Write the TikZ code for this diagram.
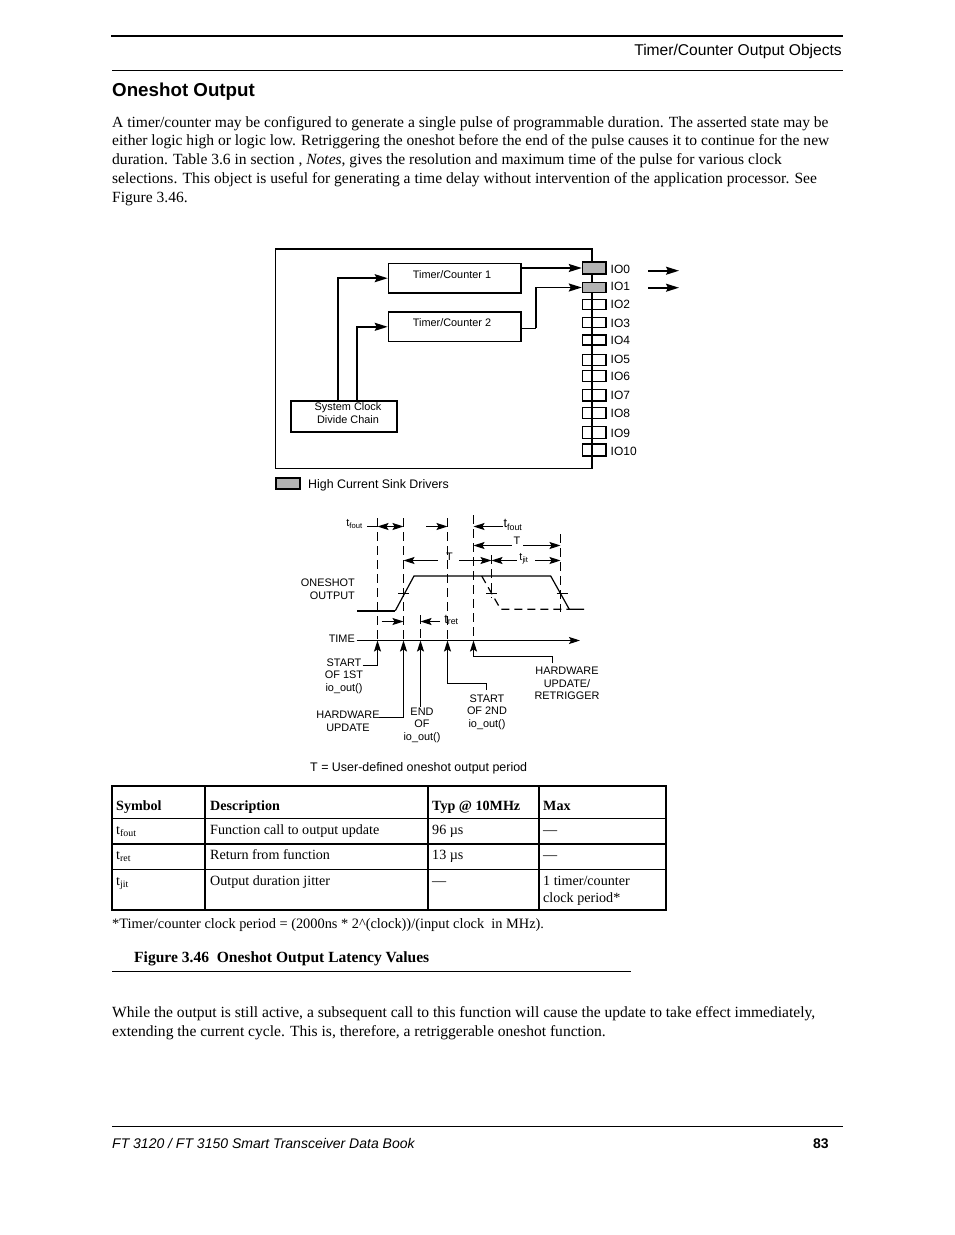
\documentclass[tikz,border=0pt]{standalone}
\usepackage{fontspec}
\setmainfont{Liberation Serif}
\setsansfont{Liberation Sans}
\usetikzlibrary{calc,arrows.meta,positioning}
\definecolor{pingray}{HTML}{B3B3B3}
\tikzset{
  ar/.style={-{Stealth[length=13pt,width=8pt,inset=2pt]},line width=1.6pt},
  dar/.style={{Stealth[length=11pt,width=7pt,inset=2pt]}-{Stealth[length=11pt,width=7pt,inset=2pt]},line width=1pt},
  lar/.style={-{Stealth[length=11pt,width=7pt,inset=2pt]},line width=1pt},
  upar/.style={-{Stealth[length=11pt,width=7pt,inset=2pt]},line width=1pt},
  box/.style={draw,line width=1.5pt,inner sep=0pt,anchor=north west},
  iopin/.style={draw,line width=1.5pt,inner sep=0pt,minimum width=23.5pt},
  dsh/.style={line width=1pt,dash pattern=on 9pt off 5pt},
  rulethin/.style={line width=0.7pt},
  tabrule/.style={line width=1.3pt},
  lab/.style={font=\sffamily\fontsize{12.7}{14}\selectfont,align=center,inner sep=0pt},
  small/.style={font=\sffamily\fontsize{10.9}{12.6}\selectfont,align=center,inner sep=0pt},
  iolab/.style={font=\sffamily\fontsize{12}{13}\selectfont,anchor=west,inner sep=0pt},
  body/.style={font=\fontsize{15.55}{18.75}\selectfont,align=left,anchor=base west,inner sep=0pt},
  cell/.style={font=\fontsize{14.1}{17}\selectfont,align=left,anchor=base west,inner sep=0pt},
  hcell/.style={cell,font=\bfseries\fontsize{14.1}{17}\selectfont}
}
\begin{document}
\begin{tikzpicture}[x=1pt,y=-1pt]
\useasboundingbox (0,0) rectangle (954,1235);
\fill[white] (0,0) rectangle (954,1235);
% page head
\draw[line width=2.4pt] (111,36)--(843,36);
\draw[rulethin] (112,70)--(843,70);
\node[font=\sffamily\fontsize{15.6}{18}\selectfont,anchor=base east,inner sep=0pt] (head) at (842,55) {Timer/Counter Output Objects};
\node[font=\sffamily\bfseries\fontsize{18.75}{22}\selectfont,anchor=base west,inner sep=0pt] (title) at (112,96) {Oneshot Output};
\node[body] (para1) at (112,202) {A timer/counter may be configured to generate a single pulse of programmable duration. The asserted state may be\\
either logic high or logic low. Retriggering the oneshot before the end of the pulse causes it to continue for the new\\
duration. Table 3.6 in section , \emph{Notes}, gives the resolution and maximum time of the pulse for various clock\\
selections. This object is useful for generating a time delay without intervention of the application processor. See\\
Figure 3.46.};
% block diagram
\draw[line width=1.5pt] (275.5,249) rectangle (592,468.7);
\node[box,minimum width=132.5pt,minimum height=29.5pt] (tc1) at (387.7,262.7) {};
\node[small] (tc1txt) at (452,275) {Timer/Counter 1};
\node[box,minimum width=132.5pt,minimum height=29.5pt] (tc2) at (387.7,311.3) {};
\node[small] (tc2txt) at (452,322.5) {Timer/Counter 2};
\node[box,minimum width=106pt,minimum height=31pt] (clk) at (290,400) {};
\node[small] (clktxt) at (348,413) {System Clock\\Divide Chain};
\foreach \n/\yc/\pinh/\yl in {2/304.3/10/304,3/322.7/10/323,4/340/10/340,5/360/11.4/359,6/376.2/11/376,7/395.2/11.6/395,8/413/10.6/413,9/432.5/11.6/433,10/450/12/451}{
  \node[iopin,minimum height=\pinh pt] (io\n) at (594.3,\yc) {};
  \node[iolab] (iol\n) at (610.5,\yl) {IO\n};
}
\node[iopin,fill=pingray,minimum height=11.6pt] (io0) at (594.3,268) {};
\node[iopin,fill=pingray,minimum height=10pt] (io1) at (594.3,287.5) {};
\node[iolab] (iol0) at (610.5,269) {IO0};
\node[iolab] (iol1) at (610.5,286.5) {IO1};
\draw[ar] (tc1.east|-io0) -- (io0.west);
\draw[line width=0.8pt] (520.3,328) -- (535.7,328);
\draw[ar] (535.7,328) |- (io1.west);
\draw[ar] (338,400) |- (tc1.west);
\draw[ar] (357,400) |- (tc2.west);
\coordinate (o0a) at (648,270.7); \coordinate (o0b) at (679,270.7);
\coordinate (o1a) at (648,287.7); \coordinate (o1b) at (679,287.7);
\draw[ar] (o0a) -- (o0b);
\draw[ar] (o1a) -- (o1b);
\node[draw,line width=1.4pt,fill=pingray,inner sep=0pt,minimum width=24pt,minimum height=11pt] (leg) at (288,483.5) {};
\node[lab,font=\sffamily\fontsize{12.4}{14}\selectfont,anchor=west] (legtxt) at (308,485) {High Current Sink Drivers};
% timing
\foreach \n/\x in {1/377.5,2/403.5,3/420.5,4/447.5,5/473.5}
  \coordinate (t\n) at (\x,640.5);
\draw[dsh] (377.5,518)--(t1);
\draw[dsh] (403.5,518)--(t2);
\draw[dsh] (420.5,615)--(t3);
\draw[dsh] (447.5,518)--(t4);
\draw[dsh] (473.5,515)--(t5);
\draw[dsh] (491.5,555)--(491.5,598);
\draw[dsh] (560.5,534)--(560.5,612);
\draw[line width=1.7pt] (357.3,610.7)--(395.3,610.7);
\draw[line width=1.2pt] (395.3,610.7)--(414,576)--(550.7,576)--(569.3,609.3)--(584,609.3);
\draw[line width=1.2pt,dash pattern=on 8pt off 5pt] (481.7,576)--(500.7,609.3)--(569.3,609.3);
\foreach \x in {398.3,486,556.7}
  \draw[line width=1pt] (\x,593.5)--++(11,0);
\draw[lar] (356.7,640.5)--(580,640.5);
% dimension rows
\draw[line width=1pt] (367,526.5)--(377.5,526.5);
\draw[dar] (377.5,526.5)--(403.5,526.5);
\draw[lar] (426,526.5)--(447.5,526.5);
\draw[lar] (503,526.5)--(473.5,526.5);
\draw[lar] (511.7,545.5)--(473.5,545.5);
\draw[lar] (523.3,545.5)--(560.5,545.5);
\draw[lar] (438,560.5)--(403.5,560.5);
\draw[lar] (459,560.5)--(491.5,560.5);
\draw[lar] (516.7,560.5)--(491.5,560.5);
\draw[lar] (535,560.5)--(560.5,560.5);
\draw[lar] (381.7,621.5)--(403.5,621.5);
\draw[lar] (440,621.5)--(420.5,621.5);
\node[small] (lfout1) at (354.5,524) {t\textsubscript{fout}};
\node[lab] (lfout2) at (513,525) {t\textsubscript{fout}};
\node[small] (lT1) at (449.5,557) {T};
\node[small] (lT2) at (517,541) {T};
\node[small] (ljit) at (524,559) {t\textsubscript{jit}};
\node[lab] (lret) at (451.5,620) {t\textsubscript{ret}};
\node[small,align=right,anchor=east] (lone) at (355,589.5) {ONESHOT\\OUTPUT};
\node[small,anchor=east] (ltime) at (355,638.6) {TIME};
\node[small] (lst1) at (344,676) {START\\OF 1ST\\io\_out()};
\node[small] (lhw) at (348,721.5) {HARDWARE\\UPDATE};
\node[small] (lend) at (422,725) {END\\OF\\io\_out()};
\node[small] (lst2) at (487,712) {START\\OF 2ND\\io\_out()};
\node[small] (lret2) at (567,683.5) {HARDWARE\\UPDATE/\\RETRIGGER};
\coordinate (c1) at (362.7,665);
\coordinate (c2) at (379,717);
\coordinate (c3) at (420.5,706.7);
\coordinate (c4) at (486.7,690);
\coordinate (c5) at (552.3,663);
\draw[upar] (c1) -| (t1);
\draw[upar] (c2) -| (t2);
\draw[upar] (c3) -- (t3);
\draw[upar] (c4) |- (447.5,683.3) -- (t4);
\draw[upar] (c5) |- (473.5,656.7) -- (t5);
\node[small,font=\sffamily\fontsize{12.45}{14}\selectfont,anchor=west] (ldef) at (310,768) {T = User-defined oneshot output period};
% table
\draw[tabrule] (112,786) rectangle (666,910);
\draw[rulethin] (112,818)--(666,818);
\draw[tabrule] (112,844)--(666,844);
\draw[rulethin] (112,869)--(666,869);
\foreach \x in {205,428,539}
  \draw[tabrule] (\x,786)--(\x,910);
\node[hcell] (hsym) at (116,810) {Symbol};
\node[hcell] (hdes) at (210,810) {Description};
\node[hcell] (htyp) at (432,810) {Typ @ 10MHz};
\node[hcell] (hmax) at (543,810) {Max};
\node[cell] (r1a) at (116,834) {t\textsubscript{fout}};
\node[cell] (r1b) at (210,834) {Function call to output update};
\node[cell] (r1c) at (432,834) {96 µs};
\node[cell] (r1d) at (543,834) {---};
\node[cell] (r2a) at (116,859) {t\textsubscript{ret}};
\node[cell] (r2b) at (210,859) {Return from function};
\node[cell] (r2c) at (432,859) {13 µs};
\node[cell] (r2d) at (543,859) {---};
\node[cell] (r3a) at (116,885) {t\textsubscript{jit}};
\node[cell] (r3b) at (210,885) {Output duration jitter};
\node[cell] (r3c) at (432,885) {---};
\node[cell] (r3d) at (543,902) {1 timer/counter\\clock period*};
\node[cell,font=\fontsize{14.36}{17}\selectfont] (note) at (112,928) {*Timer/counter clock period = (2000ns * 2\^{}(clock))/(input clock\ \ in MHz).};
\node[hcell,font=\bfseries\fontsize{15.55}{17}\selectfont] (figcap) at (134,962) {Figure 3.46\ \ Oneshot Output Latency Values};
\draw[rulethin] (112,971)--(631,971);
\node[body] (para2) at (112,1036) {While the output is still active, a subsequent call to this function will cause the update to take effect immediately,\\
extending the current cycle. This is, therefore, a retriggerable oneshot function.};
% foot
\draw[rulethin] (112,1126)--(843,1126);
\node[font=\sffamily\itshape\fontsize{14}{16}\selectfont,anchor=base west,inner sep=0pt] (foot) at (112,1148) {FT 3120 / FT 3150 Smart Transceiver Data Book};
\node[font=\sffamily\bfseries\fontsize{14}{16}\selectfont,anchor=base west,inner sep=0pt] (pageno) at (813,1148) {83};
\end{tikzpicture}
\end{document}
